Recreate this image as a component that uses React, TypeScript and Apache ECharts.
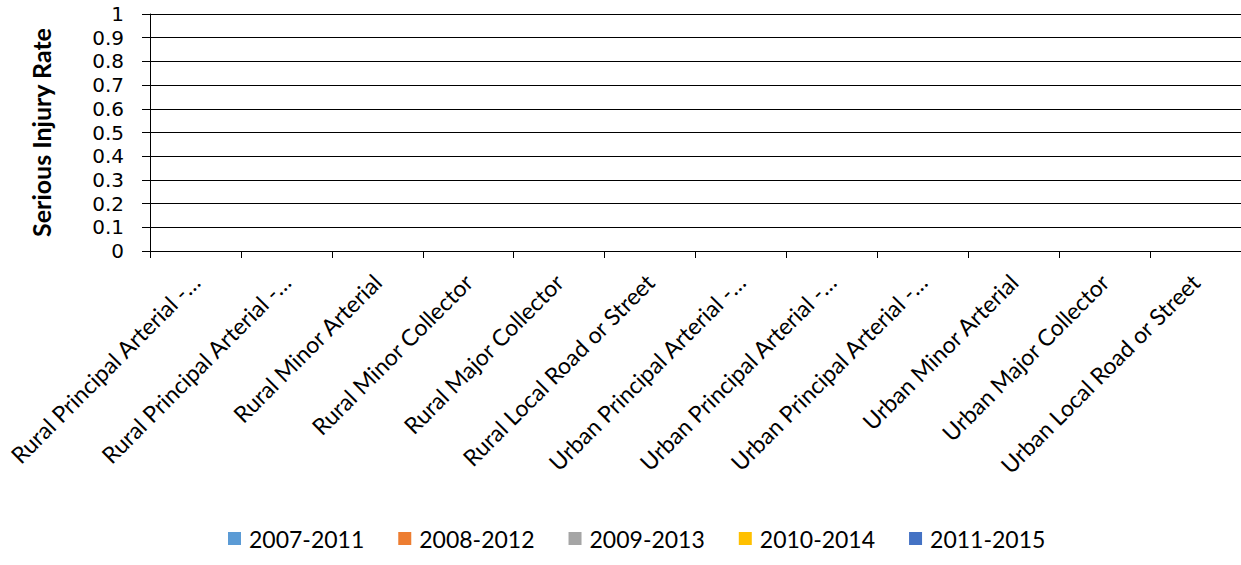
import React, { useEffect, useRef } from "react";
import * as echarts from "echarts";

// Functional classes shown along the horizontal axis
const categories = [
  "Rural Principal Arterial -…",
  "Rural Principal Arterial -…",
  "Rural Minor Arterial",
  "Rural Minor Collector",
  "Rural Major Collector",
  "Rural Local Road or Street",
  "Urban Principal Arterial -…",
  "Urban Principal Arterial -…",
  "Urban Principal Arterial -…",
  "Urban Minor Arterial",
  "Urban Major Collector",
  "Urban Local Road or Street",
];

// Five-year periods (no rates reported for any class)
const periods = ["2007-2011", "2008-2012", "2009-2013", "2010-2014", "2011-2015"];
const periodColors = ["#5B9BD5", "#ED7D31", "#A5A5A5", "#FFC000", "#4472C4"];

const rates2007_2011 = [null, null, null, null, null, null, null, null, null, null, null, null];
const rates2008_2012 = [null, null, null, null, null, null, null, null, null, null, null, null];
const rates2009_2013 = [null, null, null, null, null, null, null, null, null, null, null, null];
const rates2010_2014 = [null, null, null, null, null, null, null, null, null, null, null, null];
const rates2011_2015 = [null, null, null, null, null, null, null, null, null, null, null, null];
const seriesValues = [rates2007_2011, rates2008_2012, rates2009_2013, rates2010_2014, rates2011_2015];

const FONT = "Lato, 'Liberation Sans', sans-serif";
const NUM_FONT = "'DejaVu Sans', Lato, sans-serif";

export default function App() {
  const ref = useRef<HTMLDivElement>(null);

  useEffect(() => {
    document.body.style.margin = "0";
    if (!ref.current) return;
    const chart = echarts.init(ref.current, null, { renderer: "svg" });
    chart.setOption({
      animation: false,
      backgroundColor: "#ffffff",
      grid: {
        left: 150,
        right: 0,
        top: 14,
        bottom: 314,
        containLabel: false,
        outerBoundsMode: "none",
      },
      legend: {
        left: 223,
        top: 522,
        itemWidth: 13,
        itemHeight: 13,
        itemGap: 34,
        icon: "rect",
        textStyle: { fontFamily: FONT, fontSize: 23, color: "#000", padding: [0, 0, 0, 3] },
        data: periods,
      },
      xAxis: {
        type: "category",
        data: categories,
        boundaryGap: true,
        axisLine: { lineStyle: { color: "#000", width: 1 } },
        axisTick: { show: true, length: 7, alignWithLabel: false, lineStyle: { color: "#000" } },
        axisLabel: {
          interval: 0,
          rotate: 45,
          margin: 27,
          fontFamily: FONT,
          fontSize: 23,
          lineHeight: 20,
          color: "#000",
        },
      },
      yAxis: {
        type: "value",
        min: 0,
        max: 1,
        interval: 0.1,
        name: "Serious Injury Rate",
        nameLocation: "middle",
        nameGap: 97,
        nameTextStyle: { fontFamily: FONT, fontSize: 25, fontWeight: "bold", color: "#000" },
        axisLine: { show: true, lineStyle: { color: "#000", width: 1 } },
        axisTick: { show: true, length: 8, lineStyle: { color: "#000" } },
        splitLine: { show: true, lineStyle: { color: "#000", width: 1 } },
        axisLabel: {
          margin: 26,
          fontFamily: NUM_FONT,
          fontSize: 20,
          lineHeight: 20,
          color: "#000",
          formatter: (v: number) => String(Math.round(v * 10) / 10),
        },
      },
      series: periods.map((p, i) => ({
        name: p,
        type: "bar",
        data: seriesValues[i],
        itemStyle: { color: periodColors[i] },
      })),
    });
    return () => chart.dispose();
  }, []);

  return <div ref={ref} style={{ width: 1241, height: 565 }} />;
}
